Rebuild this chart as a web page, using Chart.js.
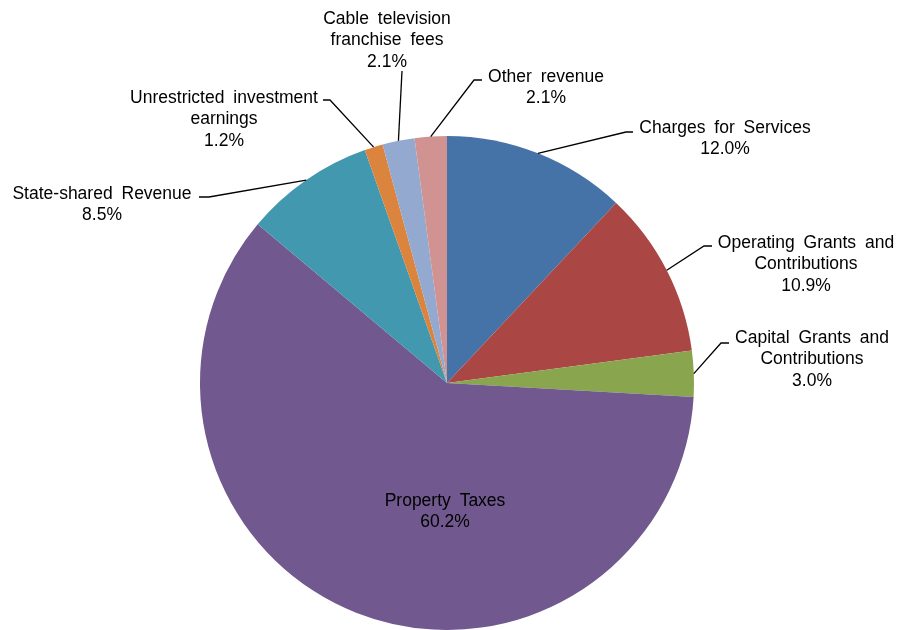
<!DOCTYPE html>
<html>
<head>
<meta charset="utf-8">
<script src="https://cdn.jsdelivr.net/npm/chart.js@4"></script>
<style>
    html, body { margin: 0; padding: 0; background: #fff; }
    #wrap { width: 901px; height: 630px; }
</style>
</head>
<body>
<div id="wrap"><canvas id="revenueChart" width="901" height="630"></canvas></div>
<script>
// revenue sources, clockwise from 12 o'clock
const categories = [
    'Charges for Services',
    'Operating Grants and Contributions',
    'Capital Grants and Contributions',
    'Property Taxes',
    'State-shared Revenue',
    'Unrestricted investment earnings',
    'Cable television franchise fees',
    'Other revenue',
];
const shares = [12.0, 10.9, 3.0, 60.2, 8.5, 1.2, 2.1, 2.1];
const colors = ['#4572A7', '#AA4643', '#89A54E', '#71588F', '#4198AF', '#DB843D', '#93A9CF', '#D19392'];

// how each label wraps + where it sits (text centre x, first line y, elbow, end of leader)
const labelLayout = [
    { lines: ['Charges for Services'], x: 725, y: 128, elbow: [626, 132], end: [633, 132] },
    { lines: ['Operating Grants and', 'Contributions'], x: 806, y: 243, elbow: [704, 246], end: [712, 246] },
    { lines: ['Capital Grants and', 'Contributions'], x: 812, y: 338, elbow: [721, 343], end: [729, 343] },
    { lines: ['Property Taxes'], x: 445, y: 501, inside: true },
    { lines: ['State-shared Revenue'], x: 102, y: 194, elbow: [209, 197], end: [199, 197] },
    { lines: ['Unrestricted investment', 'earnings'], x: 224, y: 98, elbow: [330, 100], end: [323, 100] },
    { lines: ['Cable television', 'franchise fees'], x: 387, y: 19, elbow: [402, 71], end: [402, 71] },
    { lines: ['Other revenue'], x: 546, y: 77, elbow: [474, 80], end: [482, 80] },
];

const lineGap = 21.5;

const pieLabels = {
    id: 'pieLabels',
    afterDraw(chart) {
        const ctx = chart.ctx;
        const arcs = chart.getDatasetMeta(0).data;
        ctx.save();
        ctx.font = '17.5px "Liberation Sans", Arial, sans-serif';
        ctx.wordSpacing = '4px';
        ctx.fillStyle = '#000';
        ctx.textAlign = 'center';
        ctx.textBaseline = 'middle';
        ctx.strokeStyle = '#000';
        ctx.lineWidth = 1.3;

        arcs.forEach((arc, i) => {
            let lay = labelLayout[i];
            if (!lay.inside) {
                let mid = (arc.startAngle + arc.endAngle) / 2;
                let ax = arc.x + Math.cos(mid) * arc.outerRadius;
                let ay = arc.y + Math.sin(mid) * arc.outerRadius;
                ctx.beginPath();
                ctx.moveTo(ax, ay);
                ctx.lineTo(lay.elbow[0], lay.elbow[1]);
                ctx.lineTo(lay.end[0], lay.end[1]);
                ctx.stroke();
            }
            let lines = lay.lines.concat([shares[i].toFixed(1) + '%']);
            lines.forEach((t, k) => ctx.fillText(t, lay.x, lay.y + k * lineGap));
        });
        ctx.restore();
    }
};

new Chart(document.getElementById('revenueChart'), {
    type: 'pie',
    data: {
        labels: categories,
        datasets: [{
            data: shares,
            backgroundColor: colors,
            borderWidth: 0,
        }]
    },
    options: {
        responsive: false,
        animation: false,
        layout: { padding: { top: 136, bottom: 0, left: 200, right: 207 } },
        plugins: {
            legend: { display: false },
            tooltip: { enabled: false },
        },
    },
    plugins: [pieLabels],
});
</script>
</body>
</html>
